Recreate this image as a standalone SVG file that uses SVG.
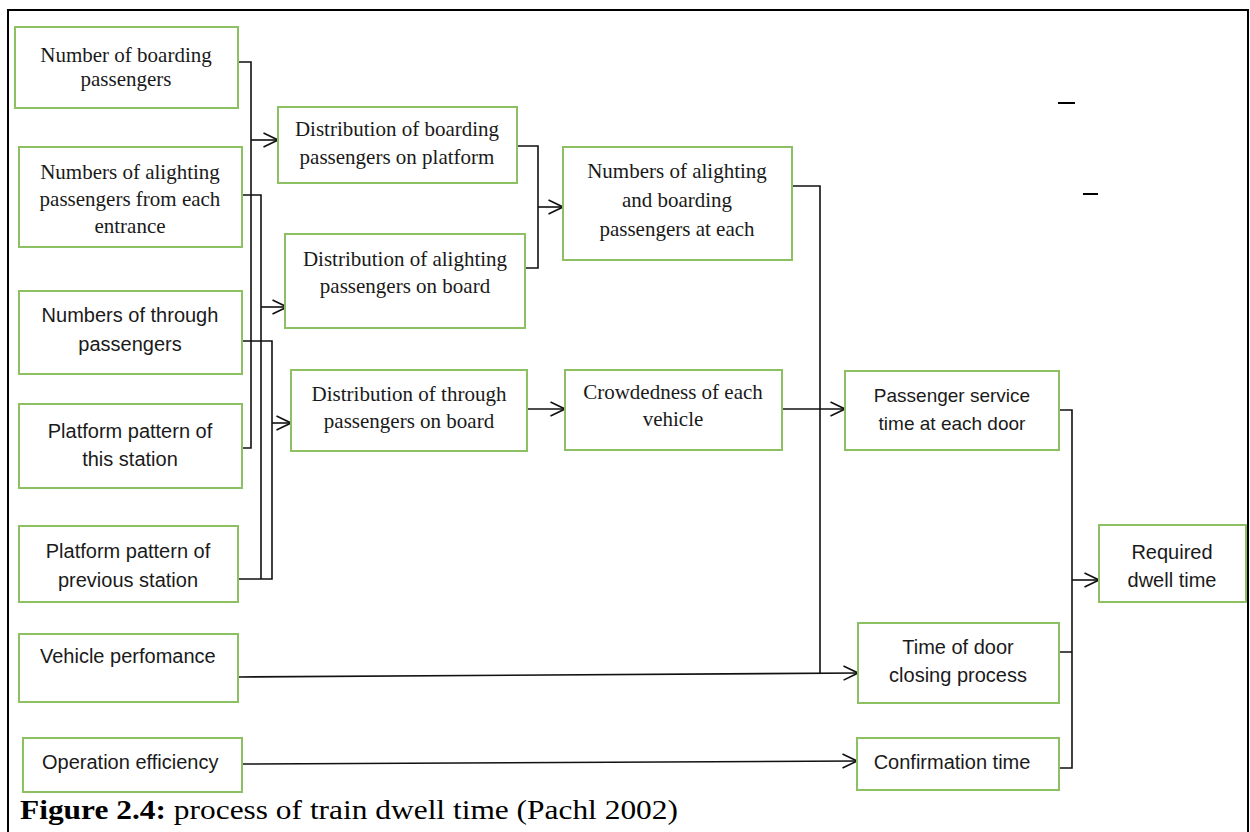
<svg xmlns="http://www.w3.org/2000/svg" width="1250" height="832" viewBox="0 0 1250 832">
<style>
.box{fill:#fff;stroke:#8cc063;stroke-width:2}
.s{font-family:"Liberation Serif",serif;font-size:21px;fill:#1a1a1a;text-anchor:middle}
.n{font-family:"Liberation Sans",sans-serif;font-size:20px;fill:#1a1a1a;text-anchor:middle}
.l{text-anchor:start}
.c{fill:none;stroke:#111;stroke-width:1.6}
.a{fill:none;stroke:#111;stroke-width:1.6;marker-end:url(#arr)}
</style>
<defs>
<marker id="arr" markerUnits="userSpaceOnUse" viewBox="0 0 16 16" markerWidth="16" markerHeight="16" refX="15.5" refY="8" orient="auto">
<path d="M1,1 L15.5,8 L1,15" fill="none" stroke="#111" stroke-width="1.6"/>
</marker>
</defs>
<rect width="1250" height="832" fill="#fff"/>
<path d="M8,832 V10 H1248 V832" fill="none" stroke="#000" stroke-width="2"/>
<line x1="1058" y1="103" x2="1075" y2="103" stroke="#000" stroke-width="2"/>
<line x1="1083" y1="194" x2="1098" y2="194" stroke="#000" stroke-width="2"/>

<g id="connectors">
<path class="c" d="M238,62 H251 V448 H242"/>
<path class="a" d="M251,140 H278"/>
<path class="c" d="M242,195 H261 V579"/>
<path class="a" d="M261,307 H287"/>
<path class="c" d="M242,341 H272 V579 H238"/>
<path class="a" d="M272,423 H291"/>
<path class="c" d="M517,146 H538 V268 H525"/>
<path class="a" d="M538,207 H563"/>
<path class="a" d="M527,409 H565"/>
<path class="a" d="M782,409 H845"/>
<path class="c" d="M792,186 H820 V673"/>
<path class="a" d="M238,677 L858,673"/>
<path class="a" d="M242,764 L857,761"/>
<path class="c" d="M1059,410 H1072 V768 H1059 M1059,652 H1072"/>
<path class="a" d="M1072,580 H1099"/>
</g>

<g id="n1"><rect class="box" x="15" y="27" width="223" height="81"/>
<text class="s" x="126" y="62">Number of boarding</text><text class="s" x="126" y="86">passengers</text></g>
<g id="n2"><rect class="box" x="19" y="147" width="223" height="100"/>
<text class="s" x="130" y="179">Numbers of alighting</text><text class="s" x="130" y="206">passengers from each</text><text class="s" x="130" y="233">entrance</text></g>
<g id="n3"><rect class="box" x="19" y="291" width="223" height="83"/>
<text class="n" x="130" y="322">Numbers of through</text><text class="n" x="130" y="351">passengers</text></g>
<g id="n4"><rect class="box" x="19" y="404" width="223" height="84"/>
<text class="n" x="130" y="438">Platform pattern of</text><text class="n" x="130" y="466">this station</text></g>
<g id="n5"><rect class="box" x="19" y="526" width="219" height="76"/>
<text class="n" x="128" y="558">Platform pattern of</text><text class="n" x="128" y="587">previous station</text></g>
<g id="n6"><rect class="box" x="19" y="634" width="219" height="68"/>
<text class="n l" x="40" y="663">Vehicle perfomance</text></g>
<g id="n7"><rect class="box" x="23" y="738" width="219" height="54"/>
<text class="n l" x="42" y="769">Operation efficiency</text></g>

<g id="n8"><rect class="box" x="278" y="107" width="239" height="76"/>
<text class="s" x="397" y="136">Distribution of boarding</text><text class="s" x="397" y="164">passengers on platform</text></g>
<g id="n9"><rect class="box" x="285" y="234" width="240" height="94"/>
<text class="s" x="405" y="266">Distribution of alighting</text><text class="s" x="405" y="293">passengers  on board</text></g>
<g id="n10"><rect class="box" x="291" y="370" width="236" height="81"/>
<text class="s" x="409" y="401">Distribution of through</text><text class="s" x="409" y="428">passengers on board</text></g>

<g id="n11"><rect class="box" x="563" y="147" width="229" height="113"/>
<text class="s" x="677" y="178">Numbers of alighting</text><text class="s" x="677" y="207">and boarding</text><text class="s" x="677" y="236">passengers at each</text></g>
<g id="n12"><rect class="box" x="565" y="370" width="217" height="80"/>
<text class="s" x="673" y="399">Crowdedness of each</text><text class="s" x="673" y="426">vehicle</text></g>

<g id="n13"><rect class="box" x="845" y="371" width="214" height="79"/>
<text class="n" x="952" y="402" style="font-size:19px">Passenger service</text><text class="n" x="952" y="430" style="font-size:19px">time at each door</text></g>
<g id="n14"><rect class="box" x="858" y="623" width="201" height="80"/>
<text class="n" x="958" y="654">Time of door</text><text class="n" x="958" y="682">closing process</text></g>
<g id="n15"><rect class="box" x="857" y="738" width="202" height="52"/>
<text class="n" x="952" y="769">Confirmation time</text></g>
<g id="n16"><rect class="box" x="1099" y="525" width="147" height="77"/>
<text class="n" x="1172" y="559">Required</text><text class="n" x="1172" y="587">dwell time</text></g>

<text x="20" y="819" textLength="658" lengthAdjust="spacingAndGlyphs" style="font-family:'Liberation Serif',serif;font-size:27px;fill:#000"><tspan font-weight="bold">Figure 2.4:</tspan> process of train dwell time (Pachl 2002)</text>
</svg>
